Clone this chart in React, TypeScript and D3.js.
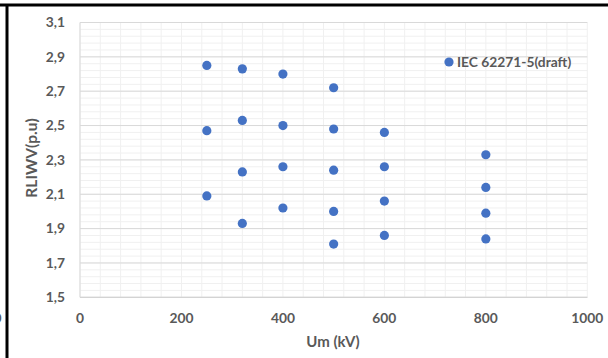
import React from "react";
import * as d3 from "d3";

const umValues: number[] = [
  250, 250, 250,
  320, 320, 320, 320,
  400, 400, 400, 400,
  500, 500, 500, 500, 500,
  600, 600, 600, 600,
  800, 800, 800, 800,
];
const rliwvValues: number[] = [
  2.85, 2.47, 2.09,
  2.83, 2.53, 2.23, 1.93,
  2.80, 2.50, 2.26, 2.02,
  2.72, 2.48, 2.24, 2.00, 1.81,
  2.46, 2.26, 2.06, 1.86,
  2.33, 2.14, 1.99, 1.84,
];
const xTicks: number[] = [0, 200, 400, 600, 800, 1000];
const yTicks: number[] = [1.5, 1.7, 1.9, 2.1, 2.3, 2.5, 2.7, 2.9, 3.1];
const seriesName = "IEC 62271-5(draft)";
const xTitle = "Um (kV)";
const yTitle = "RLIWV(p.u)";

const W = 608;
const H = 358;
const FONT = "Lato, 'Open Sans', sans-serif";
const TXT = "#595959";
const BLUE = "#4472C4";

export default function App() {
  const x = d3.scaleLinear().domain([0, 1000]).range([80, 587.3]);
  const y = d3.scaleLinear().domain([1.5, 3.1]).range([297.3, 22.5]);

  const minorY = d3.range(1.5, 3.1001, 0.04);
  const minorX = d3.range(0, 1000.01, 40);
  const fmt = (v: number) => v.toFixed(1).replace(".", ",");

  return (
    <svg
      width={W}
      height={H}
      style={{ position: "absolute", left: 0, top: 0, background: "#fff" }}
    >
      <rect x={0} y={0} width={W} height={H} fill="#fff" />
      {minorY.map((v, i) => (
        <line key={"my" + i} x1={x(0)} x2={x(1000)} y1={y(v)} y2={y(v)} stroke="#f0f0f0" strokeWidth={1} />
      ))}
      {minorX.map((v, i) => (
        <line key={"mx" + i} x1={x(v)} x2={x(v)} y1={y(1.5)} y2={y(3.1)} stroke="#f0f0f0" strokeWidth={1} />
      ))}
      {yTicks.map((v, i) => (
        <line key={"gy" + i} x1={x(0)} x2={x(1000)} y1={y(v)} y2={y(v)} stroke="#d9d9d9" strokeWidth={1} />
      ))}
      <line x1={x(0)} x2={x(0)} y1={y(1.5)} y2={y(3.1)} stroke="#d9d9d9" strokeWidth={1} />
      <line x1={x(0)} x2={x(1000)} y1={y(1.5)} y2={y(1.5)} stroke="#d0d0d0" strokeWidth={1} />

      {yTicks.map((v, i) => (
        <text key={"ty" + i} x={65} y={y(v)} dy="0.35em" textAnchor="end" fontFamily={FONT} fontSize={13.8} fontWeight={700} fill={TXT}>
          {fmt(v)}
        </text>
      ))}
      {xTicks.map((v, i) => (
        <text key={"tx" + i} x={x(v)} y={318} dy="0.35em" textAnchor="middle" fontFamily={FONT} fontSize={13.8} fontWeight={700} fill={TXT}>
          {v}
        </text>
      ))}

      <text x={333} y={342} dy="0.35em" textAnchor="middle" fontFamily={FONT} fontSize={15} fontWeight={700} fill={TXT}>
        {xTitle}
      </text>
      <text transform={`translate(32,158) rotate(-90)`} dy="0.35em" textAnchor="middle" fontFamily={FONT} fontSize={15.5} fontWeight={700} fill={TXT}>
        {yTitle}
      </text>

      {umValues.map((u, i) => (
        <circle key={"p" + i} cx={x(u)} cy={y(rliwvValues[i])} r={4.6} fill={BLUE} />
      ))}

      <circle cx={449} cy={62} r={4.6} fill={BLUE} />
      <text x={457} y={62} dy="0.35em" fontFamily={FONT} fontSize={13.8} fontWeight={700} fill={TXT}>
        {seriesName}
      </text>

      <text x={1.5} y={318} dy="0.35em" textAnchor="end" fontFamily={FONT} fontSize={13.8} fontWeight={700} fill={TXT}>
        0
      </text>

      <line x1={0} x2={W} y1={5} y2={5} stroke="#000" strokeWidth={3} />
      <line x1={7} x2={7} y1={5} y2={H} stroke="#000" strokeWidth={3} />
    </svg>
  );
}
